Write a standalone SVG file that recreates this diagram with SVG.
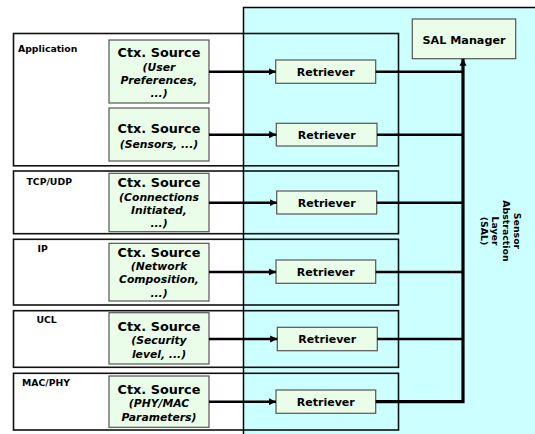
<svg xmlns="http://www.w3.org/2000/svg" width="535" height="434" viewBox="0 0 535 434">
<defs>
<style>
text{font-family:"DejaVu Sans","Verdana",sans-serif;font-weight:bold;fill:#000}
.lay{fill:none;stroke:#111;stroke-width:1.6}
.box{fill:#eafde8;stroke:#555;stroke-width:1.2}
.lbl{font-size:9.3px}
.ctx{font-size:12.8px;text-anchor:middle}
.sub{font-size:10.8px;font-style:italic;text-anchor:middle}
.ret{font-size:11px;text-anchor:middle}
.sal{font-size:9.4px;text-anchor:middle}
.ln{fill:none;stroke:#000;stroke-width:2.4}
.bus{fill:none;stroke:#000;stroke-width:3.2}
</style>
<marker id="ah" viewBox="0 0 8 8" refX="8" refY="4" markerWidth="3" markerHeight="3" orient="auto" markerUnits="strokeWidth">
<path d="M0,0 L8,4 L0,8 z" fill="#000"/>
</marker>
<marker id="ahb" viewBox="0 0 8 8" refX="8" refY="4" markerWidth="2.2" markerHeight="2.2" orient="auto" markerUnits="strokeWidth">
<path d="M0,0 L8,4 L0,8 z" fill="#000"/>
</marker>
</defs>
<rect width="535" height="434" fill="#fff"/>
<g id="sal-layer">
<rect x="243.5" y="7.5" width="300" height="440" fill="#ccffff" stroke="#000" stroke-width="1.5"/>
<text class="sal" transform="translate(514,231) rotate(90)">Sensor</text>
<text class="sal" transform="translate(503,231) rotate(90)">Abstraction</text>
<text class="sal" transform="translate(491.5,231) rotate(90)">Layer</text>
<text class="sal" transform="translate(480.5,231) rotate(90)">(SAL)</text>
</g>
<g id="layer-application">
<rect class="lay" x="13.5" y="33.5" width="385" height="132.3"/>
<text class="lbl" x="18" y="52.3">Application</text>
</g>
<g id="layer-tcpudp">
<rect class="lay" x="13.5" y="171" width="385" height="62.7"/>
<text class="lbl" x="26.5" y="185">TCP/UDP</text>
</g>
<g id="layer-ip">
<rect class="lay" x="13.5" y="239.3" width="385" height="65.7"/>
<text class="lbl" x="37.5" y="251.5">IP</text>
</g>
<g id="layer-ucl">
<rect class="lay" x="13.5" y="310.7" width="385" height="56.6"/>
<text class="lbl" x="36.5" y="322.7">UCL</text>
</g>
<g id="layer-macphy">
<rect class="lay" x="13.5" y="373.3" width="385" height="56.7"/>
<text class="lbl" x="22" y="386">MAC/PHY</text>
</g>
<g id="ctx1">
<rect class="box" x="109" y="40" width="100" height="63"/>
<text class="ctx" x="159" y="57.3">Ctx. Source</text>
<text class="sub" x="159" y="70.7">(User</text>
<text class="sub" x="159" y="84">Preferences,</text>
<text class="sub" x="159" y="97.3">...)</text>
</g>
<g id="ctx2">
<rect class="box" x="109" y="108" width="100" height="53"/>
<text class="ctx" x="159" y="132.7">Ctx. Source</text>
<text class="sub" x="159" y="148.3">(Sensors, ...)</text>
</g>
<g id="ctx3">
<rect class="box" x="109" y="173.3" width="100" height="58.4"/>
<text class="ctx" x="159" y="187.3">Ctx. Source</text>
<text class="sub" x="159" y="200.7">(Connections</text>
<text class="sub" x="159" y="213.6">Initiated,</text>
<text class="sub" x="159" y="227">...)</text>
</g>
<g id="ctx4">
<rect class="box" x="109" y="243.3" width="100" height="57.7"/>
<text class="ctx" x="159" y="256.7">Ctx. Source</text>
<text class="sub" x="159" y="270">(Network</text>
<text class="sub" x="159" y="283.3">Composition,</text>
<text class="sub" x="159" y="296.6">...)</text>
</g>
<g id="ctx5">
<rect class="box" x="109" y="312.7" width="100" height="51.3"/>
<text class="ctx" x="159" y="330.7">Ctx. Source</text>
<text class="sub" x="159" y="344.3">(Security</text>
<text class="sub" x="159" y="358.3">level, ...)</text>
</g>
<g id="ctx6">
<rect class="box" x="109" y="376" width="100" height="51.3"/>
<text class="ctx" x="159" y="394">Ctx. Source</text>
<text class="sub" x="159" y="407.3">(PHY/MAC</text>
<text class="sub" x="159" y="421">Parameters)</text>
</g>
<g id="ret1">
<rect class="box" x="275.7" y="60" width="100" height="23.3"/>
<text class="ret" x="325.7" y="76.2">Retriever</text>
</g>
<g id="ret2">
<rect class="box" x="276.3" y="123.3" width="100.7" height="22.7"/>
<text class="ret" x="326.7" y="139">Retriever</text>
</g>
<g id="ret3">
<rect class="box" x="276.7" y="191" width="100" height="23"/>
<text class="ret" x="326.7" y="206.8">Retriever</text>
</g>
<g id="ret4">
<rect class="box" x="276" y="260" width="99.7" height="23.3"/>
<text class="ret" x="325.8" y="276">Retriever</text>
</g>
<g id="ret5">
<rect class="box" x="277.3" y="327.3" width="100" height="23.4"/>
<text class="ret" x="327.3" y="343.2">Retriever</text>
</g>
<g id="ret6">
<rect class="box" x="276" y="390" width="99.7" height="23.3"/>
<text class="ret" x="325.8" y="405.9">Retriever</text>
</g>
<g id="sal-manager">
<rect class="box" x="412.3" y="19" width="103.4" height="39.7"/>
<text class="ret" x="464" y="44" style="font-size:11.2px">SAL Manager</text>
</g>
<g id="connectors">
<line class="ln" x1="209" y1="71.7" x2="275.7" y2="71.7" marker-end="url(#ah)"/>
<line class="ln" x1="209" y1="134.7" x2="276.3" y2="134.7" marker-end="url(#ah)"/>
<line class="ln" x1="209" y1="202.7" x2="276.7" y2="202.7" marker-end="url(#ah)"/>
<line class="ln" x1="209" y1="272" x2="276" y2="272" marker-end="url(#ah)"/>
<line class="ln" x1="209" y1="339" x2="277.3" y2="339" marker-end="url(#ah)"/>
<line class="ln" x1="209" y1="401.7" x2="276" y2="401.7" marker-end="url(#ah)"/>
<line class="ln" x1="375.7" y1="71.7" x2="463" y2="71.7"/>
<line class="ln" x1="377" y1="134.7" x2="463" y2="134.7"/>
<line class="ln" x1="376.7" y1="202.7" x2="463" y2="202.7"/>
<line class="ln" x1="375.7" y1="272" x2="463" y2="272"/>
<line class="ln" x1="377.3" y1="339" x2="463" y2="339"/>
<path class="bus" d="M375.7,401.7 H463 V58.7" marker-end="url(#ahb)"/>
</g>
</svg>
